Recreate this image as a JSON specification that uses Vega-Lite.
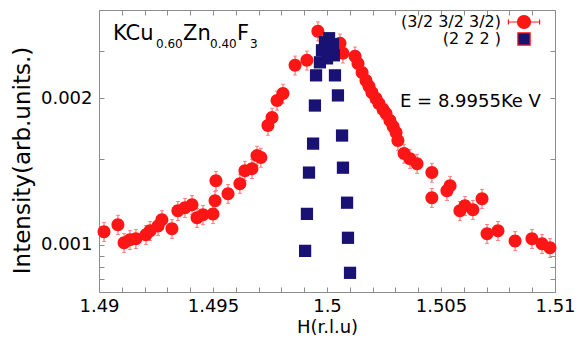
{
  "$schema": "https://vega.github.io/schema/vega-lite/v6.json",
  "width": 456,
  "height": 282,
  "autosize": "none",
  "padding": {"left": 99, "top": 10, "right": 22, "bottom": 47},
  "background": "white",
  "config": {
    "view": {"stroke": "#8c8c8c", "strokeWidth": 1},
    "font": "DejaVu Sans"
  },
  "datasets": {
    "pts": [
      {"h":1.49022,"v":0.001064,"err":0.000048,"s":"(3/2 3/2 3/2)"},
      {"h":1.49083,"v":0.00110,"err":0.00005,"s":"(3/2 3/2 3/2)"},
      {"h":1.4911,"v":0.00101,"err":0.000045,"s":"(3/2 3/2 3/2)"},
      {"h":1.49136,"v":0.001024,"err":0.000046,"s":"(3/2 3/2 3/2)"},
      {"h":1.49162,"v":0.001029,"err":0.000046,"s":"(3/2 3/2 3/2)"},
      {"h":1.49206,"v":0.001049,"err":0.000047,"s":"(3/2 3/2 3/2)"},
      {"h":1.49224,"v":0.001069,"err":0.000048,"s":"(3/2 3/2 3/2)"},
      {"h":1.49259,"v":0.001094,"err":0.000049,"s":"(3/2 3/2 3/2)"},
      {"h":1.49276,"v":0.001126,"err":0.00005,"s":"(3/2 3/2 3/2)"},
      {"h":1.4932,"v":0.001079,"err":0.000048,"s":"(3/2 3/2 3/2)"},
      {"h":1.49346,"v":0.001175,"err":0.000053,"s":"(3/2 3/2 3/2)"},
      {"h":1.49377,"v":0.001192,"err":0.000054,"s":"(3/2 3/2 3/2)"},
      {"h":1.49408,"v":0.001209,"err":0.000054,"s":"(3/2 3/2 3/2)"},
      {"h":1.4943,"v":0.001137,"err":0.000051,"s":"(3/2 3/2 3/2)"},
      {"h":1.49456,"v":0.001153,"err":0.000052,"s":"(3/2 3/2 3/2)"},
      {"h":1.495,"v":0.001158,"err":0.000052,"s":"(3/2 3/2 3/2)"},
      {"h":1.49509,"v":0.001232,"err":0.000055,"s":"(3/2 3/2 3/2)"},
      {"h":1.49513,"v":0.001355,"err":0.000061,"s":"(3/2 3/2 3/2)"},
      {"h":1.49566,"v":0.001274,"err":0.000057,"s":"(3/2 3/2 3/2)"},
      {"h":1.49618,"v":0.001336,"err":0.00006,"s":"(3/2 3/2 3/2)"},
      {"h":1.4964,"v":0.001421,"err":0.000064,"s":"(3/2 3/2 3/2)"},
      {"h":1.49671,"v":0.001434,"err":0.000065,"s":"(3/2 3/2 3/2)"},
      {"h":1.49693,"v":0.001526,"err":0.000069,"s":"(3/2 3/2 3/2)"},
      {"h":1.4971,"v":0.001512,"err":0.000068,"s":"(3/2 3/2 3/2)"},
      {"h":1.49741,"v":0.001759,"err":0.000079,"s":"(3/2 3/2 3/2)"},
      {"h":1.49759,"v":0.001827,"err":0.000082,"s":"(3/2 3/2 3/2)"},
      {"h":1.49781,"v":0.001981,"err":0.000089,"s":"(3/2 3/2 3/2)"},
      {"h":1.49807,"v":0.002048,"err":0.000092,"s":"(3/2 3/2 3/2)"},
      {"h":1.4986,"v":0.002339,"err":0.000105,"s":"(3/2 3/2 3/2)"},
      {"h":1.49912,"v":0.002395,"err":0.000108,"s":"(3/2 3/2 3/2)"},
      {"h":1.4996,"v":0.00275,"err":0.000124,"s":"(3/2 3/2 3/2)"},
      {"h":1.50057,"v":0.002597,"err":0.000117,"s":"(3/2 3/2 3/2)"},
      {"h":1.5007,"v":0.002476,"err":0.000111,"s":"(3/2 3/2 3/2)"},
      {"h":1.50123,"v":0.002441,"err":0.00011,"s":"(3/2 3/2 3/2)"},
      {"h":1.50136,"v":0.002361,"err":0.000106,"s":"(3/2 3/2 3/2)"},
      {"h":1.50154,"v":0.002262,"err":0.000102,"s":"(3/2 3/2 3/2)"},
      {"h":1.50171,"v":0.002178,"err":0.000098,"s":"(3/2 3/2 3/2)"},
      {"h":1.50184,"v":0.002118,"err":0.000095,"s":"(3/2 3/2 3/2)"},
      {"h":1.50197,"v":0.002058,"err":0.000093,"s":"(3/2 3/2 3/2)"},
      {"h":1.50215,"v":0.0020,"err":0.00009,"s":"(3/2 3/2 3/2)"},
      {"h":1.50228,"v":0.001953,"err":0.000088,"s":"(3/2 3/2 3/2)"},
      {"h":1.50246,"v":0.001898,"err":0.000085,"s":"(3/2 3/2 3/2)"},
      {"h":1.50259,"v":0.001863,"err":0.000084,"s":"(3/2 3/2 3/2)"},
      {"h":1.50276,"v":0.001802,"err":0.000081,"s":"(3/2 3/2 3/2)"},
      {"h":1.5029,"v":0.001751,"err":0.000079,"s":"(3/2 3/2 3/2)"},
      {"h":1.50303,"v":0.001702,"err":0.000077,"s":"(3/2 3/2 3/2)"},
      {"h":1.50311,"v":0.001638,"err":0.000074,"s":"(3/2 3/2 3/2)"},
      {"h":1.50338,"v":0.001541,"err":0.000069,"s":"(3/2 3/2 3/2)"},
      {"h":1.50364,"v":0.001504,"err":0.000068,"s":"(3/2 3/2 3/2)"},
      {"h":1.50395,"v":0.001469,"err":0.000066,"s":"(3/2 3/2 3/2)"},
      {"h":1.5046,"v":0.001408,"err":0.000063,"s":"(3/2 3/2 3/2)"},
      {"h":1.5046,"v":0.00125,"err":0.000056,"s":"(3/2 3/2 3/2)"},
      {"h":1.50526,"v":0.001292,"err":0.000058,"s":"(3/2 3/2 3/2)"},
      {"h":1.5054,"v":0.001323,"err":0.00006,"s":"(3/2 3/2 3/2)"},
      {"h":1.50583,"v":0.001175,"err":0.000053,"s":"(3/2 3/2 3/2)"},
      {"h":1.50605,"v":0.001203,"err":0.000054,"s":"(3/2 3/2 3/2)"},
      {"h":1.5064,"v":0.001181,"err":0.000053,"s":"(3/2 3/2 3/2)"},
      {"h":1.5068,"v":0.001244,"err":0.000056,"s":"(3/2 3/2 3/2)"},
      {"h":1.50702,"v":0.001054,"err":0.000047,"s":"(3/2 3/2 3/2)"},
      {"h":1.5075,"v":0.001069,"err":0.000048,"s":"(3/2 3/2 3/2)"},
      {"h":1.50825,"v":0.001019,"err":0.000046,"s":"(3/2 3/2 3/2)"},
      {"h":1.50899,"v":0.001029,"err":0.000046,"s":"(3/2 3/2 3/2)"},
      {"h":1.50943,"v":0.001005,"err":0.000045,"s":"(3/2 3/2 3/2)"},
      {"h":1.50978,"v":0.000986,"err":0.000044,"s":"(3/2 3/2 3/2)"},
      {"h":1.49904,"v":0.000972,"s":"(2 2 2 )"},
      {"h":1.49912,"v":0.001158,"s":"(2 2 2 )"},
      {"h":1.49921,"v":0.001408,"s":"(2 2 2 )"},
      {"h":1.49939,"v":0.001615,"s":"(2 2 2 )"},
      {"h":1.49947,"v":0.001934,"s":"(2 2 2 )"},
      {"h":1.49952,"v":0.002231,"s":"(2 2 2 )"},
      {"h":1.50101,"v":0.000876,"s":"(2 2 2 )"},
      {"h":1.50092,"v":0.001034,"s":"(2 2 2 )"},
      {"h":1.50088,"v":0.001221,"s":"(2 2 2 )"},
      {"h":1.5007,"v":0.001441,"s":"(2 2 2 )"},
      {"h":1.50066,"v":0.001678,"s":"(2 2 2 )"},
      {"h":1.50048,"v":0.002029,"s":"(2 2 2 )"},
      {"h":1.50035,"v":0.002231,"s":"(2 2 2 )"},
      {"h":1.49969,"v":0.002373,"s":"(2 2 2 )"},
      {"h":1.49978,"v":0.002512,"s":"(2 2 2 )"},
      {"h":1.49991,"v":0.00261,"s":"(2 2 2 )"},
      {"h":1.50009,"v":0.00266,"s":"(2 2 2 )"},
      {"h":1.50026,"v":0.002585,"s":"(2 2 2 )"},
      {"h":1.5003,"v":0.002453,"s":"(2 2 2 )"},
      {"h":1.5,"v":0.002418,"s":"(2 2 2 )"}
    ],
    "ann": [
      {"t":"KCu","h":1.490614,"v":0.002638,"k":"main"},
      {"t":"Zn","h":1.493684,"v":0.002638,"k":"main"},
      {"t":"F","h":1.496053,"v":0.002638,"k":"main"},
      {"t":"0.60","h":1.4925,"v":0.00254,"k":"sub"},
      {"t":"0.40","h":1.494868,"v":0.00254,"k":"sub"},
      {"t":"3","h":1.496623,"v":0.00254,"k":"sub"},
      {"t":"E = 8.9955Ke V","h":1.503202,"v":0.00192,"k":"note"}
    ]
  },
  "layer": [
    {
      "data": {"name": "pts"},
      "transform": [{"filter": "datum.s == '(3/2 3/2 3/2)'"}],
      "mark": {"type": "errorbar", "color": "#ff5a5a", "thickness": 1, "ticks": {"size": 4}},
      "encoding": {
        "x": {"field": "h", "type": "quantitative", "scale": {"domain": [1.49, 1.51], "nice": false, "zero": false}, "axis": null},
        "y": {"field": "v", "type": "quantitative", "scale": {"type": "log", "domain": [0.0008, 0.00304], "nice": false}, "axis": null},
        "yError": {"field": "err"}
      }
    },
    {
      "data": {"name": "pts"},
      "mark": {"type": "point", "filled": true, "opacity": 1},
      "encoding": {
        "x": {"field": "h", "type": "quantitative", "scale": {"domain": [1.49, 1.51], "nice": false, "zero": false},
          "axis": {"orient": "bottom", "values": [1.49,1.491,1.492,1.493,1.494,1.495,1.496,1.497,1.498,1.499,1.5,1.501,1.502,1.503,1.504,1.505,1.506,1.507,1.508,1.509,1.51],
            "labelExpr": "abs(datum.value*200-round(datum.value*200))<0.01 ? ''+datum.value : ''",
            "title": "H(r.l.u)", "titleFontSize": 18, "titleFontWeight": "normal", "titleColor": "#000", "titlePadding": 3,
            "labelFontSize": 18, "labelColor": "#000", "labelPadding": 10, "labelFlush": false, "labelOverlap": false,
            "tickSize": -5, "tickColor": "#8c8c8c", "tickWidth": 1, "domain": false, "grid": false,
            "encode": {"ticks": {"y2": {"condition": {"test": "abs(datum.value*200-round(datum.value*200))<0.01", "value": -10}, "value": -5}}}}},
        "y": {"field": "v", "type": "quantitative", "scale": {"type": "log", "domain": [0.0008, 0.00304], "nice": false},
          "axis": {"orient": "left", "values": [0.00085,0.0009,0.00095,0.001,0.0015,0.002,0.0025],
            "labelExpr": "datum.value==0.001 ? '0.001' : datum.value==0.002 ? '0.002' : ''",
            "title": "Intensity(arb.units.)", "titleFontSize": 23, "titleFontWeight": "normal", "titleColor": "#000", "titlePadding": 6, "titleY": 150,
            "labelFontSize": 18, "labelColor": "#000", "labelPadding": 12, "labelOverlap": false,
            "tickSize": -5, "tickColor": "#8c8c8c", "tickWidth": 1, "domain": false, "grid": false,
            "encode": {"ticks": {"x2": {"condition": {"test": "datum.value==0.001||datum.value==0.002", "value": 10}, "value": 5}}}}},
        "color": {"field": "s", "type": "nominal",
          "scale": {"domain": ["(3/2 3/2 3/2)", "(2 2 2 )"], "range": ["#fd1616", "#1a1175"]},
          "legend": {"orient": "none", "legendX": 417, "legendY": 4, "title": null, "padding": 0,
            "labelAlign": "right", "labelOffset": -31, "labelFontSize": 16, "labelColor": "#000", "labelLimit": 0,
            "rowPadding": -1, "symbolSize": 200, "symbolOffset": 0, "symbolStrokeWidth": 1.2, "symbolStrokeColor": "#fd1616",
            "encode": {"symbols": {
              "stroke": {"condition": {"test": "datum.value == '(2 2 2 )'", "value": "#1a1175"}, "value": "#fd1616"}
            }}}},
        "shape": {"field": "s", "type": "nominal", "scale": {"domain": ["(3/2 3/2 3/2)", "(2 2 2 )"],
          "range": ["M1,0C1,0.552,0.552,1,0,1C-0.552,1,-1,0.552,-1,0C-1,-0.552,-0.552,-1,0,-1C0.552,-1,1,-0.552,1,0ZM-2.4,0L-1,0M1,0L2.4,0M-2.4,-0.4L-2.4,0.4M2.4,-0.4L2.4,0.4", "square"]},
          "legend": {"orient": "none", "legendX": 417, "legendY": 4, "title": null, "padding": 0,
            "labelAlign": "right", "labelOffset": -31, "labelFontSize": 16, "labelColor": "#000", "labelLimit": 0,
            "rowPadding": -1, "symbolSize": 200, "symbolOffset": 0, "symbolStrokeWidth": 1.2, "symbolStrokeColor": "#fd1616",
            "encode": {"symbols": {
              "stroke": {"condition": {"test": "datum.value == '(2 2 2 )'", "value": "#1a1175"}, "value": "#fd1616"}
            }}}},
        "size": {"field": "s", "type": "ordinal", "scale": {"domain": ["(3/2 3/2 3/2)", "(2 2 2 )"], "range": [169, 150]}, "legend": null}
      }
    },
    {
      "data": {"name": "pts"},
      "mark": {"type": "point", "opacity": 0},
      "encoding": {
        "x": {"field": "h", "type": "quantitative", "scale": {"domain": [1.49, 1.51], "nice": false, "zero": false},
          "axis": {"orient": "top", "values": [1.49,1.491,1.492,1.493,1.494,1.495,1.496,1.497,1.498,1.499,1.5,1.501,1.502,1.503,1.504,1.505,1.506,1.507,1.508,1.509,1.51],
            "labels": false, "title": null, "tickSize": -5, "tickColor": "#8c8c8c", "domain": false, "grid": false,
            "encode": {"ticks": {"y2": {"condition": {"test": "abs(datum.value*200-round(datum.value*200))<0.01", "value": 10}, "value": 5}}}}},
        "y": {"field": "v", "type": "quantitative", "scale": {"type": "log", "domain": [0.0008, 0.00304], "nice": false},
          "axis": {"orient": "right", "values": [0.00085,0.0009,0.00095,0.001,0.0015,0.002,0.0025],
            "labels": false, "title": null, "tickSize": -5, "tickColor": "#8c8c8c", "domain": false, "grid": false,
            "encode": {"ticks": {"x2": {"condition": {"test": "datum.value==0.001||datum.value==0.002", "value": -10}, "value": -5}}}}}
      }
    },
    {
      "data": {"name": "ann"},
      "transform": [{"filter": "datum.k == 'main'"}],
      "mark": {"type": "text", "align": "left", "baseline": "alphabetic", "fontSize": 21, "color": "#000"},
      "encoding": {
        "x": {"field": "h", "type": "quantitative", "scale": {"domain": [1.49, 1.51], "nice": false, "zero": false}, "axis": null},
        "y": {"field": "v", "type": "quantitative", "scale": {"type": "log", "domain": [0.0008, 0.00304], "nice": false}, "axis": null},
        "text": {"field": "t"}
      }
    },
    {
      "data": {"name": "ann"},
      "transform": [{"filter": "datum.k == 'sub'"}],
      "mark": {"type": "text", "align": "left", "baseline": "alphabetic", "fontSize": 12, "color": "#000"},
      "encoding": {
        "x": {"field": "h", "type": "quantitative", "scale": {"domain": [1.49, 1.51], "nice": false, "zero": false}, "axis": null},
        "y": {"field": "v", "type": "quantitative", "scale": {"type": "log", "domain": [0.0008, 0.00304], "nice": false}, "axis": null},
        "text": {"field": "t"}
      }
    },
    {
      "data": {"name": "ann"},
      "transform": [{"filter": "datum.k == 'note'"}],
      "mark": {"type": "text", "align": "left", "baseline": "alphabetic", "fontSize": 18, "color": "#000"},
      "encoding": {
        "x": {"field": "h", "type": "quantitative", "scale": {"domain": [1.49, 1.51], "nice": false, "zero": false}, "axis": null},
        "y": {"field": "v", "type": "quantitative", "scale": {"type": "log", "domain": [0.0008, 0.00304], "nice": false}, "axis": null},
        "text": {"field": "t"}
      }
    }
  ],
  "resolve": {"axis": {"x": "independent", "y": "independent"}}
}
